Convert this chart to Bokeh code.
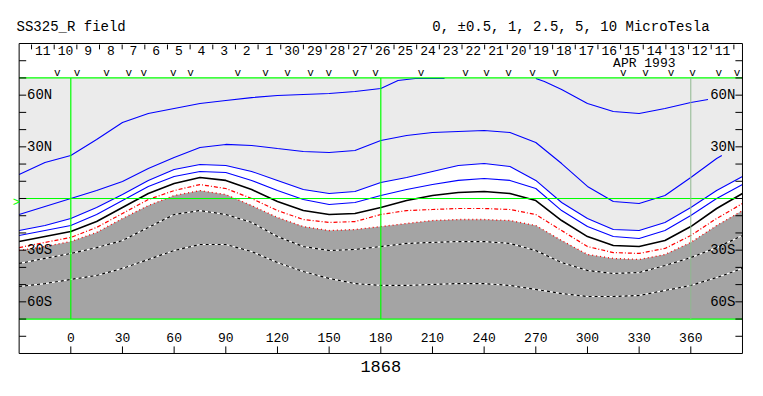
from bokeh.plotting import figure
from bokeh.models import Range1d
from bokeh.embed import file_html
from bokeh.resources import INLINE
from bokeh.core.properties import value

FONT = "Liberation Mono"

# ---------------- data ----------------
lon15 = list(range(-30, 391, 15))

# +5 contour (two pieces, leaves map above 70N)
lonA1 = [-30, -15, 0, 15, 30, 45, 60, 75, 90, 105, 120, 135, 150, 165, 180, 190, 200, 217]
latA1 = [13.9, 20.9, 25.0, 34.3, 44.1, 49.4, 52.3, 55.2, 56.9, 58.6, 59.8, 60.4, 61.0, 62.1, 63.9, 68.5, 69.7, 69.7]
lonA2 = [270, 275, 285, 300, 315, 330, 345, 360, 370]
latA2 = [69.7, 67.9, 63.3, 55.2, 50.5, 49.4, 52.3, 55.7, 57.5]

# +2.5 contour
lonB = [-30, -15, 0, 15, 30, 45, 60, 75, 90, 105, 120, 135, 150, 165, 180, 195, 210, 225, 240, 255,
        270, 285, 300, 315, 330, 345, 360, 375, 378]
latB = [-9.3, -4.6, 0.0, 4.6, 9.9, 17.4, 23.8, 29.6, 31.4, 30.8, 29.0, 27.3, 26.7, 27.9, 33.7, 36.6,
        38.3, 38.9, 39.5, 38.3, 32.5, 20.3, 7.0, -1.7, -2.9, 1.7, 12.2, 23.2, 25.0]

# +1 contour
latP1 = [-18.6, -15.7, -11.6, -5.2, 2.3, 10.5, 16.8, 19.7, 19.2, 15.7, 10.5, 5.2, 2.9, 4.1, 9.3,
         12.2, 15.7, 19.2, 20.3, 18.6, 10.5, -2.3, -11.6, -18.0, -18.6, -13.9, -5.2, 4.6, 12.8]
# +0.5 contour
latP05 = [-21.5, -18.6, -15.7, -9.3, -1.2, 7.0, 12.8, 15.7, 15.1, 10.5, 4.6, -0.6, -3.5, -2.3, 1.7,
          5.2, 8.1, 10.5, 11.6, 10.5, 5.8, -7.0, -16.3, -22.1, -23.2, -18.6, -9.9, 0.0, 8.1]
# neutral line
lat0 = [-25.0, -22.1, -19.2, -13.4, -5.2, 2.9, 8.7, 12.2, 10.5, 5.2, -1.7, -7.0, -9.3, -8.7, -5.2,
        -1.2, 1.7, 3.5, 4.1, 2.9, -1.2, -12.8, -22.1, -27.3, -27.9, -24.4, -16.3, -5.8, 2.9]
# -0.5 contour
latM05 = [-28.5, -25.5, -22.6, -16.8, -8.7, -0.6, 4.6, 8.1, 5.8, 0.0, -7.0, -12.2, -13.9, -13.4, -9.3,
          -7.0, -6.4, -5.8, -5.8, -6.4, -9.3, -18.6, -27.9, -31.4, -31.9, -29.0, -21.5, -11.6, -2.9]
# -1 contour
latM1 = [-30.2, -27.9, -25.0, -19.7, -11.6, -4.1, 1.7, 4.6, 2.3, -4.1, -11.0, -16.3, -18.6, -18.0, -16.3,
         -14.5, -12.8, -12.2, -12.2, -12.8, -15.7, -24.4, -32.5, -34.8, -35.4, -32.5, -25.5, -15.7, -7.0]
# -2.5 contour
latM25 = [-37.7, -34.8, -31.9, -28.5, -24.4, -16.8, -9.3, -7.0, -9.3, -13.9, -22.1, -27.9, -30.2, -29.6,
          -27.9, -26.1, -25.5, -25.0, -25.0, -26.1, -30.2, -37.2, -41.8, -43.5, -43.0, -38.9, -34.3, -28.5, -21.5]
# -5 contour
latM5 = [-51.1, -49.4, -47.0, -44.7, -40.6, -35.4, -30.2, -26.7, -26.7, -30.8, -37.2, -42.4, -46.4, -49.4,
         -50.5, -50.5, -49.9, -49.4, -49.4, -50.5, -52.8, -55.2, -56.9, -56.9, -56.3, -53.4, -50.5, -45.9, -40.6]

lon_ticks = [0, 30, 60, 90, 120, 150, 180, 210, 240, 270, 300, 330, 360]
lat_ticks = [-80, -70, -60, -50, -40, -30, -20, -10, 0, 10, 20, 30, 40, 50, 60, 70, 80]
lat_labels = {60: "60N", 30: "30N", -30: "30S", -60: "60S"}

day_labels = ["11", "10", "9", "8", "7", "6", "5", "4", "3", "2", "1",
              "30", "29", "28", "27", "26", "25", "24", "23", "22", "21", "20",
              "19", "18", "17", "16", "15", "14", "13", "12", "11"]
first_day_lon = -22.8
deg_per_day = 13.155

obs_lons = [-7.9, 3.7, 20.7, 33.7, 42.4, 59.5, 69.6, 97.0, 113.1, 125.8, 139.2, 149.8, 165.3,
            176.9, 203.3, 229.2, 241.4, 254.2, 268.1, 281.4, 320.8, 333.7, 348.5, 361.0, 376.3, 386.8]

earth_lat = -2.9
rotation = "1868"
title_left = "SS325_R field"
title_right = "0, \u00b10.5, 1, 2.5, 5, 10 MicroTesla"

# map frame extents
LON0, LON1 = -30, 390
LAT0, LAT1 = -90, 90
MAPLAT = 70

# ---------------- figure (frame covers whole canvas) ----------------
p = figure(width=762, height=395, x_range=Range1d(-40.82, 401.63), y_range=Range1d(-114.39, 114.97),
           x_axis_type=None, y_axis_type=None, toolbar_location=None, output_backend="svg",
           min_border=0)
p.outline_line_color = None
p.background_fill_color = "white"
p.border_fill_color = "white"

LIGHT = "#ebebeb"
DARK = "#a4a4a4"
GREEN = "#00ff00"
BLUE = "#0000ff"

# shading
n15 = len(lon15)
p.quad(left=[LON0], right=[LON1], bottom=[-MAPLAT], top=[MAPLAT], fill_color=LIGHT, line_color=None)
p.varea(x=lon15, y1=[-MAPLAT] * n15, y2=latP1, fill_color="white")
p.varea(x=lon15, y1=[-MAPLAT] * n15, y2=latM1, fill_color=DARK)

# contours
p.line(lonA1, latA1, line_color=BLUE, line_width=1.1)
p.line(lonA2, latA2, line_color=BLUE, line_width=1.1)
p.line(lonB, latB, line_color=BLUE, line_width=1.1)
p.line(lon15, latP1, line_color=BLUE, line_width=1.1)
p.line(lon15, latP05, line_color=BLUE, line_width=1.1)
p.line(lon15, lat0, line_color="black", line_width=1.6)
p.line(lon15, latM05, line_color="red", line_width=1.2, line_dash="4 2 1 2")
p.line(lon15, latM1, line_color="red", line_width=1.3, line_dash="1 3")
for la in (latM25, latM5):
    p.line(lon15, la, line_color="white", line_width=1.2)
    p.line(lon15, la, line_color="black", line_width=1.2, line_dash="3 3")

# green reference lines
p.segment(x0=[LON0] * 3, y0=[0, MAPLAT, -MAPLAT], x1=[LON1] * 3, y1=[0, MAPLAT, -MAPLAT],
          line_color=GREEN, line_width=1.2)
p.segment(x0=[0, 180], y0=[-MAPLAT] * 2, x1=[0, 180], y1=[MAPLAT] * 2, line_color=GREEN, line_width=1.2)
p.segment(x0=[360], y0=[-MAPLAT], x1=[360], y1=[MAPLAT], line_color="#8fb88f", line_width=1)

# outer box
p.segment(x0=[LON0, LON0, LON0, LON1], y0=[LAT0, LAT1, LAT0, LAT0],
          x1=[LON1, LON1, LON0, LON1], y1=[LAT0, LAT1, LAT1, LAT1], line_color="black", line_width=1)

# y ticks (inward, both sides)
n = len(lat_ticks)
p.segment(x0=[LON0] * n, y0=lat_ticks, x1=[LON0 + 4.1] * n, y1=lat_ticks, line_color="black")
p.segment(x0=[LON1] * n, y0=lat_ticks, x1=[LON1 - 4.1] * n, y1=lat_ticks, line_color="black")
ll = list(lat_labels.keys())
p.text(x=[LON0 + 4.6] * len(ll), y=ll, text=[lat_labels[k] for k in ll], text_font=value(FONT),
       text_font_size="14px", text_align="left", text_baseline="middle", text_color="black")
p.text(x=[LON1 - 4.1] * len(ll), y=ll, text=[lat_labels[k] for k in ll], text_font=value(FONT),
       text_font_size="14px", text_align="right", text_baseline="middle", text_color="black")

# x ticks (bottom, inward)
m = len(lon_ticks)
p.segment(x0=lon_ticks, y0=[LAT0] * m, x1=lon_ticks, y1=[LAT0 + 4.1] * m, line_color="black")
p.text(x=lon_ticks, y=[-81] * m, text=[str(v) for v in lon_ticks], text_font=value(FONT),
       text_font_size="13px", text_align="center", text_baseline="middle", text_color="black")

# day ticks (top)
tick_lons = [first_day_lon + deg_per_day * k for k in range(len(day_labels) + 1)]
k = len(tick_lons)
p.segment(x0=tick_lons, y0=[89.4] * k, x1=tick_lons, y1=[86.6] * k, line_color="black")
mid = [(tick_lons[i] + tick_lons[i + 1]) / 2 for i in range(len(day_labels))]
p.text(x=mid, y=[86.0] * len(mid), text=day_labels, text_font=value(FONT), text_font_size="13px",
       text_align="center", text_baseline="middle", text_color="black")
p.text(x=[333], y=[78.4], text=["APR 1993"], text_font=value(FONT), text_font_size="13px",
       text_align="center", text_baseline="middle", text_color="black")

# observation marks
p.text(x=obs_lons, y=[72.8] * len(obs_lons), text=["v"] * len(obs_lons), text_font=value(FONT),
       text_font_size="11px", text_align="center", text_baseline="middle", text_color="black")

# outside texts
p.text(x=[-31.5], y=[99.3], text=[title_left], text_font=value(FONT), text_font_size="14px",
       text_align="left", text_baseline="middle", text_color="black")
p.text(x=[209.9], y=[99.3], text=[title_right], text_font=value(FONT), text_font_size="14px",
       text_align="left", text_baseline="middle", text_color="black")
p.text(x=[180], y=[-97.5], text=[rotation], text_font=value(FONT), text_font_size="17px",
       text_align="center", text_baseline="middle", text_color="black")
p.text(x=[-31.6], y=[earth_lat], text=[">"], text_font=value(FONT), text_font_size="12px",
       text_align="center", text_baseline="middle", text_color=GREEN)

open("out.html", "w").write(file_html(p, INLINE))
